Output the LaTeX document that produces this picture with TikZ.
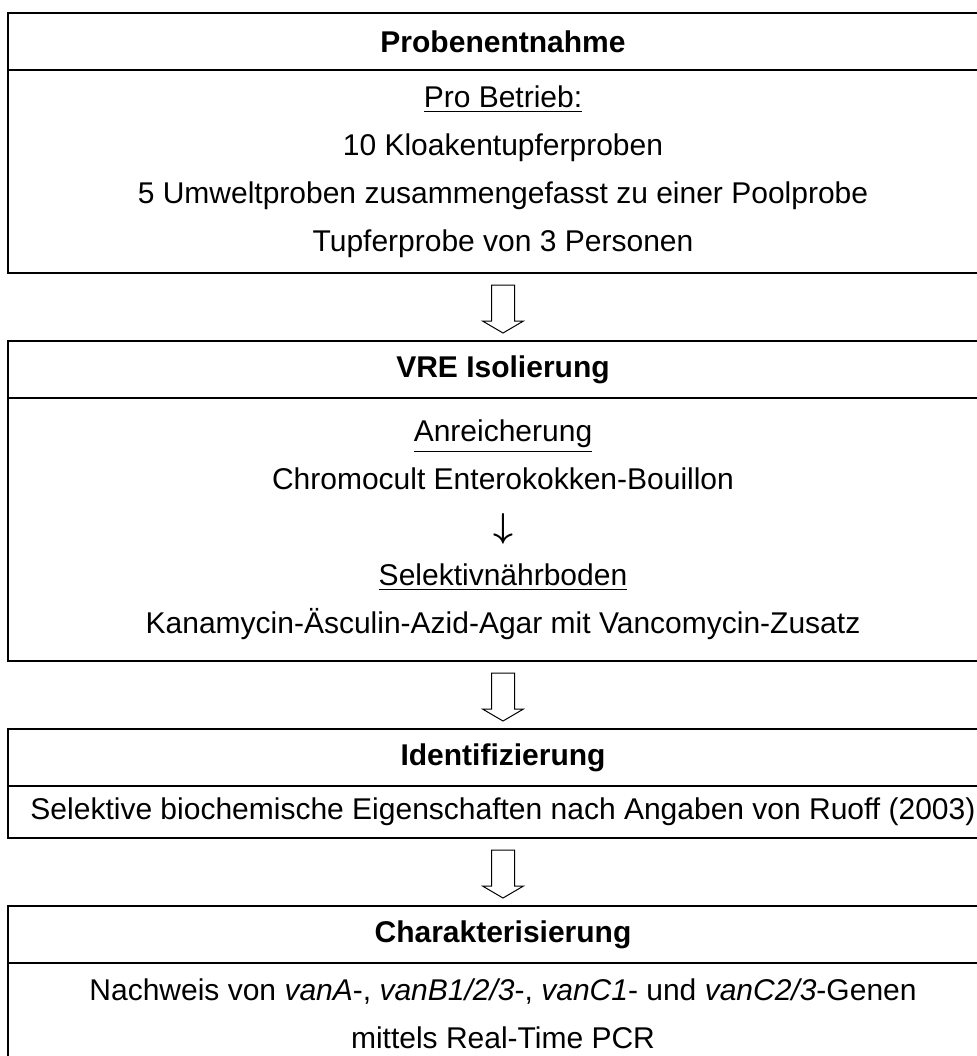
\documentclass[tikz,border=0pt]{standalone}
\usepackage{amsmath}
\usepackage{fontspec}
\setmainfont{Liberation Sans}
\usetikzlibrary{calc,positioning}

\begin{document}
\begin{tikzpicture}[x=1pt,y=-1pt,
	kopf/.style={draw,line width=0.8pt,minimum width=495pt,minimum height=28.5pt,inner sep=0pt,outer sep=0pt,font=\fontsize{15}{24}\selectfont\bfseries},
	rumpf/.style={draw,line width=0.8pt,minimum width=495pt,inner sep=0pt,outer sep=0pt,align=center,font=\fontsize{15}{24}\selectfont},
	hohlpfeil/.style={draw,line width=0.5pt,fill=white}]
		\useasboundingbox (0,0) rectangle (488,528);
		% Probenentnahme
		\node[kopf] (k1) at (251.5,20.75) {Probenentnahme};
		\node[rumpf,minimum height=101.5pt,below=0pt of k1] (r1) {\underline{Pro Betrieb:}\\10 Kloakentupferproben\\5 Umweltproben zusammengefasst zu einer Poolprobe\\Tupferprobe von 3 Personen};
		\draw[hohlpfeil] ($(r1.south)+(-5.75,6)$) -- ++(0,18) -- ++(-4.5,0) -- ++(10.25,6) -- ++(10.25,-6) -- ++(-4.5,0) -- ++(0,-18) -- cycle;
		% VRE Isolierung
		\node[kopf,below=34pt of r1] (k2) {VRE Isolierung};
		\node[rumpf,minimum height=131.5pt,below=0pt of k2] (r2) {\underline{Anreicherung}\\Chromocult Enterokokken-Bouillon\\{\fontsize{18}{24}\selectfont$\boldsymbol{\downarrow}$}\\\underline{Selektivnährboden}\\Kanamycin-Äsculin-Azid-Agar mit Vancomycin-Zusatz};
		\draw[hohlpfeil] ($(r2.south)+(-5.75,6)$) -- ++(0,18) -- ++(-4.5,0) -- ++(10.25,6) -- ++(10.25,-6) -- ++(-4.5,0) -- ++(0,-18) -- cycle;
		% Identifizierung
		\node[kopf,below=34pt of r2] (k3) {Identifizierung};
		\node[rumpf,minimum height=26pt,below=0pt of k3] (r3) {Selektive biochemische Eigenschaften nach Angaben von Ruoff (2003)};
		\draw[hohlpfeil] ($(r3.south)+(-5.75,6)$) -- ++(0,18) -- ++(-4.5,0) -- ++(10.25,6) -- ++(10.25,-6) -- ++(-4.5,0) -- ++(0,-18) -- cycle;
		% Charakterisierung
		\node[kopf,below=34pt of r3] (k4) {Charakterisierung};
		\node[rumpf,minimum height=51pt,below=0pt of k4] (r4) {Nachweis von \textit{vanA}-, \textit{vanB1/2/3}-, \textit{vanC1}- und \textit{vanC2/3}-Genen\\mittels Real-Time PCR};
\end{tikzpicture}
\end{document}
